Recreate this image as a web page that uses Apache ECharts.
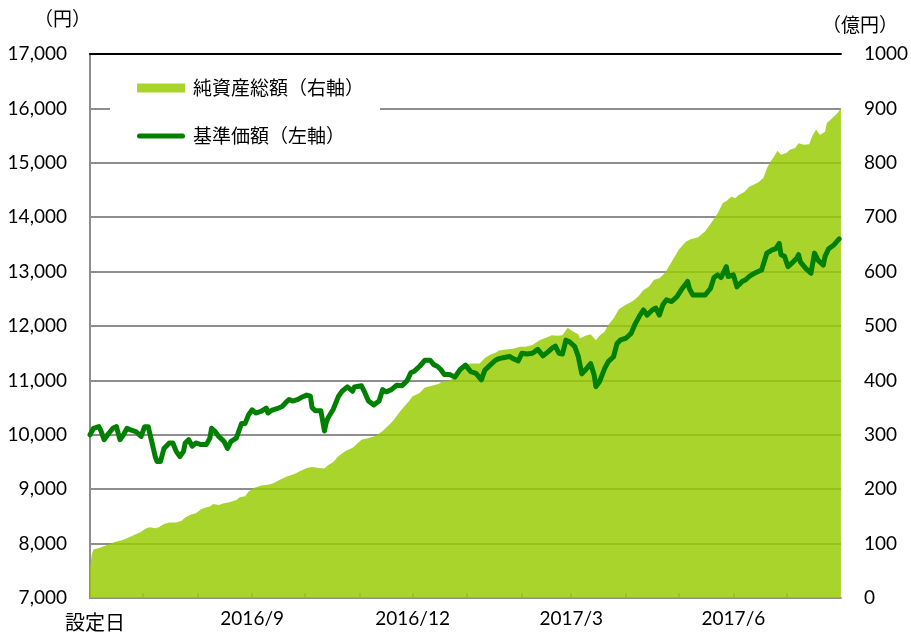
<!DOCTYPE html>
<html>
<head>
<meta charset="utf-8">
<title>基準価額・純資産総額の推移</title>
<script src="https://cdn.jsdelivr.net/npm/echarts@6/dist/echarts.min.js"></script>
<style>
    html, body { margin: 0; padding: 0; background: #fff; }
    #myChart { width: 911px; height: 640px; }
</style>
</head>
<body>
<div id="myChart"></div>
<script>
    // 日数は設定日(2016/6/1)からの経過日数
    const navDays = [0, 2, 5, 6, 8, 10, 13, 15, 17, 19, 21, 23, 26, 29, 31, 33, 35, 37, 38, 40,
        42, 45, 47, 49, 51, 53, 54, 56, 58, 60, 63, 66, 68, 69, 71, 73, 76, 78, 80, 83,
        85, 86, 88, 90, 92, 94, 97, 100, 101, 103, 106, 109, 111, 113, 115, 118, 120, 123, 125, 126,
        128, 131, 133, 134, 135, 138, 141, 143, 146, 149, 150, 154, 156, 158, 161, 164, 166, 168, 171, 174,
        177, 180, 182, 184, 187, 190, 193, 195, 197, 199, 201, 204, 207, 210, 213, 216, 219, 222, 224, 227,
        230, 232, 235, 238, 240, 243, 245, 248, 251, 254, 257, 260, 262, 264, 266, 268, 270, 272, 275, 277,
        279, 281, 284, 286, 287, 289, 292, 294, 297, 299, 301, 304, 307, 309, 312, 314, 316, 319, 321, 323,
        325, 327, 330, 333, 336, 339, 340, 342, 345, 349, 352, 354, 356, 358, 361, 362, 365, 367, 370, 372,
        374, 377, 379, 381, 384, 387, 389, 391, 392, 394, 396, 398, 401, 402, 403, 406, 409, 411, 413, 416,
        417, 419, 422, 425];
    const navValues = [10000, 10120, 10150, 10090, 9910, 10000, 10120, 10150, 9910, 10000, 10120, 10090, 10060, 9970, 10150, 10150, 9880, 9600, 9510, 9510,
        9750, 9850, 9850, 9690, 9600, 9690, 9850, 9910, 9790, 9850, 9820, 9820, 9940, 10120, 10060, 9970, 9880, 9750, 9880, 9940,
        10120, 10210, 10210, 10370, 10460, 10400, 10430, 10490, 10400, 10450, 10480, 10520, 10590, 10650, 10620, 10650, 10690, 10730, 10710, 10500,
        10440, 10440, 10070, 10220, 10310, 10470, 10710, 10800, 10880, 10800, 10880, 10900, 10770, 10620, 10550, 10620, 10830, 10790, 10830, 10910,
        10900, 11000, 11140, 11170, 11260, 11370, 11370, 11290, 11260, 11200, 11110, 11110, 11060, 11200, 11280, 11160, 11130, 11010, 11190, 11280,
        11370, 11400, 11420, 11440, 11400, 11360, 11500, 11485, 11500, 11570, 11450, 11530, 11590, 11630, 11500, 11485, 11740, 11710, 11620, 11440,
        11120, 11190, 11310, 11100, 10885, 10975, 11220, 11345, 11435, 11680, 11745, 11775, 11865, 12020, 12200, 12295, 12200, 12295, 12330, 12200,
        12390, 12480, 12450, 12540, 12690, 12820, 12690, 12570, 12570, 12570, 12690, 12890, 12940, 12890, 13090, 12910, 12940, 12720, 12820, 12850,
        12910, 12970, 13000, 13030, 13340, 13400, 13420, 13520, 13310, 13280, 13090, 13150, 13250, 13310, 13180, 13060, 12970, 13340, 13210, 13120,
        13280, 13420, 13490, 13600];

    // 純資産総額(億円)
    const assetDays = [0, 1, 2, 6, 10, 14, 18, 21, 25, 29, 32, 34, 37, 39, 42, 45, 49, 52, 54, 57,
        60, 63, 66, 68, 70, 73, 76, 79, 83, 85, 88, 90, 93, 97, 101, 104, 108, 112, 116, 119,
        123, 126, 130, 133, 135, 138, 141, 145, 149, 152, 154, 158, 162, 166, 169, 172, 175, 178, 181, 183,
        187, 190, 194, 198, 200, 203, 207, 211, 214, 216, 221, 224, 227, 230, 232, 236, 240, 244, 247, 251,
        255, 259, 262, 265, 268, 271, 274, 277, 278, 281, 284, 287, 289, 292, 294, 297, 300, 304, 308, 311,
        314, 317, 320, 323, 326, 330, 334, 338, 341, 345, 349, 353, 356, 359, 361, 364, 366, 368, 371, 374,
        379, 382, 384, 386, 388, 390, 392, 395, 397, 400, 402, 405, 408, 410, 412, 414, 417, 418, 421, 424,
        426];
    const assetValues = [55, 80, 89, 93, 98, 103, 106, 110, 116, 122, 128, 130, 128, 130, 136, 139, 139, 142, 148, 153,
        156, 163, 167, 168, 173, 171, 174, 176, 180, 185, 187, 196, 202, 207, 208, 211, 218, 224, 228, 233,
        239, 241, 239, 238, 244, 250, 261, 270, 276, 285, 291, 294, 298, 307, 316, 326, 339, 351, 362, 371,
        377, 387, 390, 394, 399, 399, 405, 420, 430, 431, 431, 441, 447, 451, 455, 457, 458, 462, 462, 465,
        474, 479, 483, 482, 483, 497, 490, 485, 477, 482, 485, 474, 482, 490, 502, 514, 531, 539, 546, 554,
        566, 572, 585, 588, 597, 618, 640, 655, 660, 663, 674, 692, 707, 726, 730, 738, 735, 741, 746, 756,
        764, 772, 790, 802, 811, 822, 815, 818, 824, 827, 836, 833, 834, 851, 861, 851, 857, 873, 882, 891,
        900];

    // 目盛り(月初)とラベル
    const monthTickDays = [30, 61, 92, 122, 153, 183, 214, 245, 273, 304, 334, 365, 395];
    const labelDays = [0, 92, 183, 273, 365];
    const labelTexts = ['設定日', '2016/9', '2016/12', '2017/3', '2017/6'];

    const seriesNames = ['純資産総額（右軸）', '基準価額（左軸）'];

    const fontNum = 'Lato, "Noto Sans CJK JP", sans-serif';
    const fontJp = '"Noto Sans CJK JP", sans-serif';
    const gridGrey = '#8e8e8e';

    // 凡例の線(丸端の太線)。外側の点は大きさ合わせ用
    const lineIcon = 'path://M2.5,2H45.5A2.5,2.5 0 0 1 45.5,7H2.5A2.5,2.5 0 0 1 2.5,2Z'
        + 'M0,0L0.01,0L0.01,0.01Z M48,9L47.99,9L47.99,8.99Z';

    const myChart = echarts.init(document.getElementById('myChart'));

    const option = {
        animation: false,
        grid: {left: 90, right: 66, top: 54, bottom: 42},
        graphic: [
            {
                type: 'text', left: 34, top: 9,
                style: {text: '（円）', fontFamily: fontJp, fontSize: 19, fill: '#000'}
            },
            {
                type: 'text', left: 822, top: 15,
                style: {text: '（億円）', fontFamily: fontJp, fontSize: 19, fill: '#000'}
            }
        ],
        legend: {
            orient: 'vertical',
            left: 110,
            top: 62,
            padding: [16, 16, 11, 27],
            backgroundColor: '#fff',
            itemGap: 28,
            itemWidth: 48,
            itemHeight: 9,
            selectedMode: false,
            textStyle: {fontFamily: fontJp, fontSize: 19, color: '#000', lineHeight: 20, padding: [0, 0, 0, 3]},
            data: [
                {name: seriesNames[0], icon: 'rect', itemStyle: {color: '#a9d42a'}},
                {name: seriesNames[1], icon: lineIcon, itemStyle: {color: '#008000'}}
            ]
        },
        xAxis: [
            {
                type: 'value',
                min: 0,
                max: 426,
                axisLine: {lineStyle: {color: gridGrey, width: 2}},
                axisTick: {
                    inside: true,
                    length: 5,
                    customValues: monthTickDays,
                    lineStyle: {color: gridGrey, width: 1.5}
                },
                splitLine: {show: false},
                axisLabel: {
                    customValues: labelDays,
                    margin: 11,
                    color: '#000',
                    fontFamily: fontNum,
                    fontSize: 19,
                    formatter: function (v) {
                        const i = labelDays.indexOf(v);
                        if (i === 0) return '{jp|' + labelTexts[0] + '}';
                        return i > 0 ? labelTexts[i] : '';
                    },
                    rich: {
                        jp: {fontFamily: fontJp, fontSize: 20, padding: [3, 0, 0, 10], color: '#000'}
                    }
                }
            },
            {
                // 上辺の黒線
                type: 'value',
                position: 'top',
                min: 0,
                max: 426,
                axisLine: {lineStyle: {color: '#000', width: 2}},
                axisTick: {show: false},
                axisLabel: {show: false},
                splitLine: {show: false}
            }
        ],
        yAxis: [
            {
                type: 'value',
                min: 7000,
                max: 17000,
                interval: 1000,
                axisLine: {show: true, lineStyle: {color: gridGrey, width: 2}},
                axisTick: {show: false},
                splitLine: {lineStyle: {color: gridGrey, width: 2}},
                axisLabel: {
                    margin: 23,
                    color: '#000',
                    fontFamily: fontNum,
                    fontSize: 19,
                    formatter: v => v.toLocaleString('en-US')
                }
            },
            {
                type: 'value',
                position: 'right',
                min: 0,
                max: 1000,
                interval: 100,
                axisLine: {show: true, lineStyle: {color: gridGrey, width: 2}},
                axisTick: {show: false},
                splitLine: {show: false},
                axisLabel: {
                    margin: 23,
                    color: '#000',
                    fontFamily: fontNum,
                    fontSize: 19,
                    formatter: v => String(v)
                }
            }
        ],
        series: [
            {
                name: seriesNames[0],
                type: 'line',
                yAxisIndex: 1,
                symbol: 'none',
                itemStyle: {color: '#a9d42a'},
                lineStyle: {width: 0},
                // 少し透かして目盛線を透けさせる
                areaStyle: {color: '#97cb00', opacity: 0.83},
                data: assetDays.map((d, i) => [d, assetValues[i]])
            },
            {
                name: seriesNames[1],
                type: 'line',
                yAxisIndex: 0,
                symbol: 'none',
                itemStyle: {color: '#008000'},
                lineStyle: {color: '#008000', width: 5, cap: 'round', join: 'round'},
                data: navDays.map((d, i) => [d, navValues[i]])
            }
        ]
    };

    myChart.setOption(option);
</script>
</body>
</html>
